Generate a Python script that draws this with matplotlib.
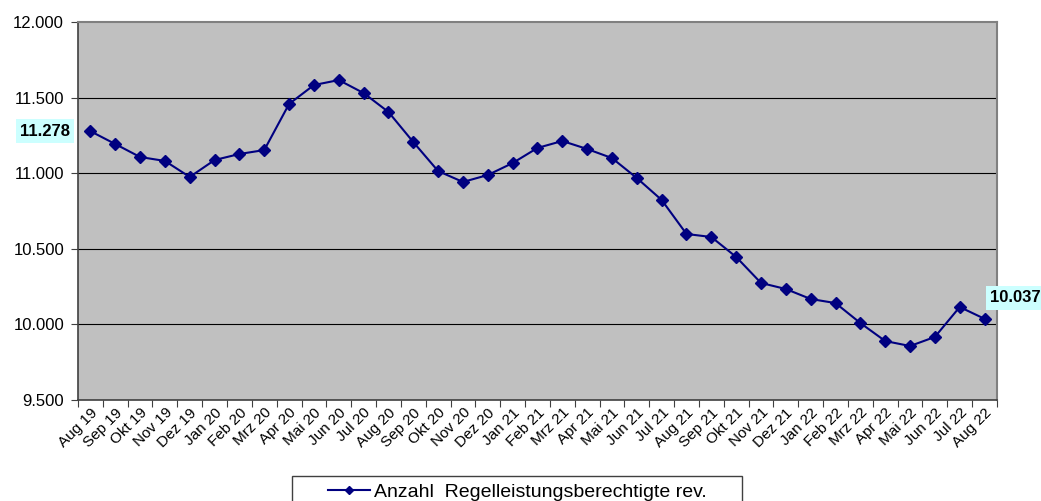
import matplotlib.pyplot as plt
from matplotlib.patches import Rectangle
from matplotlib.ticker import FuncFormatter, FixedLocator

plt.rcParams['font.family'] = ['Liberation Sans', 'DejaVu Sans']

# Monatswerte Aug 19 .. Aug 22
months = ['Aug 19', 'Sep 19', 'Okt 19', 'Nov 19', 'Dez 19',
          'Jan 20', 'Feb 20', 'Mrz 20', 'Apr 20', 'Mai 20', 'Jun 20', 'Jul 20',
          'Aug 20', 'Sep 20', 'Okt 20', 'Nov 20', 'Dez 20',
          'Jan 21', 'Feb 21', 'Mrz 21', 'Apr 21', 'Mai 21', 'Jun 21', 'Jul 21',
          'Aug 21', 'Sep 21', 'Okt 21', 'Nov 21', 'Dez 21',
          'Jan 22', 'Feb 22', 'Mrz 22', 'Apr 22', 'Mai 22', 'Jun 22', 'Jul 22',
          'Aug 22']
values = [11278, 11193, 11107, 11081, 10975,
          11087, 11127, 11153, 11458, 11583, 11616, 11530,
          11405, 11206, 11014, 10942, 10988,
          11067, 11167, 11213, 11160, 11100, 10968, 10823,
          10598, 10578, 10446, 10274, 10234,
          10168, 10141, 10009, 9890, 9857, 9917, 10115,
          10037]
series_name = 'Anzahl  Regelleistungsberechtigte rev.'


def de_fmt(v, pos=None):
    return '{:,.0f}'.format(v).replace(',', '.')


fig = plt.figure(figsize=(10.41, 5.01), dpi=100)
ax = fig.add_axes([0.0749, 0.2016, 0.8828, 0.7545])
ax.set_facecolor('#C0C0C0')

x = list(range(len(months)))
ax.plot(x, values, color='#000080', marker='D', markersize=6, linewidth=1.5,
        label=series_name, zorder=3)

ax.set_xlim(-0.5, len(months) - 0.5)
ax.set_ylim(9500, 12000)
ax.set_yticks(range(9500, 12001, 500))
ax.yaxis.set_major_formatter(FuncFormatter(de_fmt))
ax.yaxis.grid(True, color='#000000', linewidth=0.8)
ax.set_axisbelow(True)
# no black gridline on top of the grey frame
ax.yaxis.get_gridlines()[-1].set_visible(False)

# ticks between categories, labels at the category centres
ax.xaxis.set_major_locator(FixedLocator([i - 0.5 for i in range(len(months) + 1)]))
ax.xaxis.set_major_formatter(FuncFormatter(lambda v, p: ''))
ax.set_xticks(x, minor=True)
ax.set_xticklabels(months, minor=True, rotation=45, ha='right',
                   rotation_mode='anchor', fontsize=11)
ax.tick_params(axis='x', which='minor', length=0, pad=4)
ax.tick_params(axis='x', which='major', length=5, color='#404040')
ax.tick_params(axis='y', length=5, labelsize=12, pad=5, color='#404040')

for side in ['left', 'bottom']:
    ax.spines[side].set_color('#404040')
    ax.spines[side].set_linewidth(1.2)
for side in ['top', 'right']:
    ax.spines[side].set_color('#808080')
    ax.spines[side].set_linewidth(1.5)

# Werte am Anfang und Ende
ax.annotate(de_fmt(values[0]), xy=(0, values[0]), xycoords='data',
            xytext=(-8, values[0]), textcoords=('axes pixels', 'data'),
            ha='right', va='center', fontsize=12, fontweight='bold',
            bbox=dict(boxstyle='square,pad=0.25', fc='#CCFFFF', ec='none'),
            annotation_clip=False)
ax.annotate(de_fmt(values[-1]), xy=(x[-1], values[-1]), xytext=(4, 15),
            textcoords='offset points', ha='left', va='center',
            fontsize=12, fontweight='bold',
            bbox=dict(boxstyle='square,pad=0.25', fc='#CCFFFF', ec='none'),
            annotation_clip=False)

leg = fig.legend(loc='upper center', bbox_to_anchor=(0.497, 0.045),
                 borderaxespad=0, fontsize=14, frameon=False,
                 handlelength=2.2, handletextpad=0.2, borderpad=0.25,
                 markerscale=0.7)
# wide legend frame as in the original
fig.patches.append(Rectangle((292 / 1041, -0.02), 450 / 1041, 0.07,
                             transform=fig.transFigure, fill=False,
                             edgecolor='#404040', linewidth=1.0))

fig.savefig('out.png', dpi=100)
